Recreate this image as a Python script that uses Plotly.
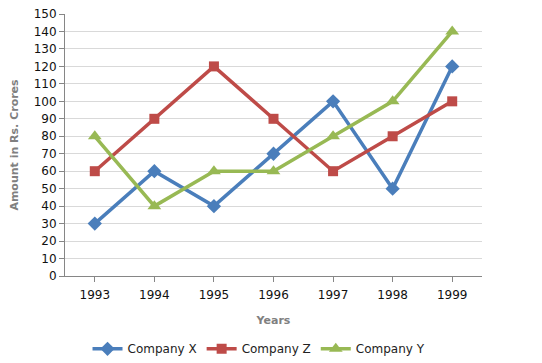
import plotly.graph_objects as go

years = ["1993", "1994", "1995", "1996", "1997", "1998", "1999"]
company_x = [30, 60, 40, 70, 100, 50, 120]
company_z = [60, 90, 120, 90, 60, 80, 100]
company_y = [80, 40, 60, 60, 80, 100, 140]
y_ticks = list(range(0, 151, 10))

fig = go.Figure()
fig.add_trace(go.Scatter(x=years, y=company_x, name="Company X", mode="lines+markers",
                         line=dict(color="#4a7ebb", width=3.5),
                         marker=dict(symbol="diamond", size=11, color="#4a7ebb")))
fig.add_trace(go.Scatter(x=years, y=company_z, name="Company Z", mode="lines+markers",
                         line=dict(color="#be4b48", width=3.5),
                         marker=dict(symbol="square", size=10, color="#be4b48")))
fig.add_trace(go.Scatter(x=years, y=company_y, name="Company Y", mode="lines+markers",
                         line=dict(color="#98b954", width=3.5),
                         marker=dict(symbol="triangle-up", size=12, color="#98b954")))

fig.update_layout(
    width=534, height=355,
    margin=dict(l=57, r=60, t=6, b=87, autoexpand=False),
    paper_bgcolor="white", plot_bgcolor="white",
    font=dict(family="DejaVu Sans", size=12, color="#000000"),
    showlegend=True,
    legend=dict(orientation="h", x=0.054, xanchor="left", yref="container", y=0.04, yanchor="middle",
                font=dict(size=12, color="#222222"), itemwidth=30, tracegroupgap=0),
    xaxis=dict(type="category", range=[-0.5, 6.5], showgrid=False, automargin=False,
               showline=True, linecolor="#868686", linewidth=1,
               ticks="outside", tickcolor="#868686", ticklen=5, ticklabelstandoff=3,
               tickfont=dict(size=12, color="#111111"), zeroline=False,
               title=dict(text="<b>Years</b>", font=dict(size=11, color="#808080"), standoff=14)),
    yaxis=dict(range=[0, 150], tickvals=y_ticks, showgrid=True, gridcolor="#d9d9d9",
               showline=True, linecolor="#868686", linewidth=1, automargin=False,
               ticks="outside", tickcolor="#868686", ticklen=5, ticklabeloverflow="allow",
               tickfont=dict(size=12, color="#111111"), zeroline=False,
               title=dict(text="<b>Amount in Rs. Crores</b>", font=dict(size=11, color="#808080"), standoff=12)),
)
fig.write_html("out.html")
